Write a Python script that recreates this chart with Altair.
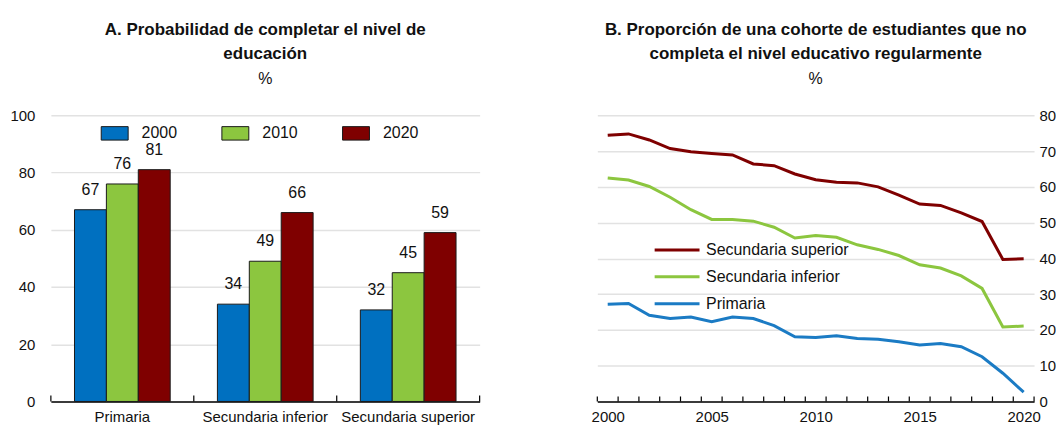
import altair as alt
import pandas as pd

FONT = "Liberation Sans Narrow, Arial Narrow, Liberation Sans, sans-serif"

# ---------------- Panel A data ----------------
categories = ["Primaria", "Secundaria inferior", "Secundaria superior"]
years_a = ["2000", "2010", "2020"]
prob_2000 = [67, 34, 32]
prob_2010 = [76, 49, 45]
prob_2020 = [81, 66, 59]
colors_a = ["#0070C0", "#8CC63F", "#7F0000"]

# ---------------- Panel B data ----------------
years_b = list(range(2000, 2021))
sec_superior = [74.4, 74.8, 73.1, 70.7, 69.8, 69.3, 68.9, 66.4, 65.9, 63.6, 62.0,
                61.3, 61.1, 60.0, 57.7, 55.2, 54.8, 52.7, 50.3, 39.7, 39.9]
sec_inferior = [62.5, 61.9, 60.1, 57.1, 53.6, 50.9, 50.9, 50.4, 48.7, 45.7, 46.4,
                45.9, 43.8, 42.5, 40.8, 38.2, 37.3, 35.1, 31.6, 20.8, 21.1]
primaria = [27.2, 27.4, 24.1, 23.2, 23.6, 22.3, 23.6, 23.2, 21.2, 18.1, 17.9,
            18.4, 17.6, 17.4, 16.7, 15.8, 16.2, 15.3, 12.5, 7.9, 2.6]
series_b = ["Secundaria superior", "Secundaria inferior", "Primaria"]
colors_b = ["#7F0000", "#8CC63F", "#1B7BC4"]

# ---------------- tables ----------------
rows_a = []
for i, c in enumerate(categories):
    for yr, vals in zip(years_a, [prob_2000, prob_2010, prob_2020]):
        rows_a.append({"cat": c, "year": yr, "value": vals[i]})
dfa = pd.DataFrame(rows_a)

rows_b = []
for name, vals in zip(series_b, [sec_superior, sec_inferior, primaria]):
    for yr, v in zip(years_b, vals):
        rows_b.append({"series": name, "year": yr, "value": v})
dfb = pd.DataFrame(rows_b)

ticks_a_start = pd.DataFrame({"cat": categories})
ticks_a_end = pd.DataFrame({"cat": categories[-1:]})
ticks_b = pd.DataFrame({"year": [y - 0.5 for y in years_b] + [years_b[-1] + 0.5]})

W_A, W_B, H = 430, 438, 287
GRID = "#E2E2E2"
TXT = "#111111"

# ---------------- Panel A ----------------
axisA_x = alt.Axis(title=None, labelAngle=0, ticks=False, domainColor="black",
                   domainWidth=1.5, labelFontSize=15, labelPadding=8,
                   labelColor=TXT, grid=False)
scaleA_x = alt.Scale(paddingInner=0, paddingOuter=0)
xA = alt.X("cat:N", sort=categories, scale=scaleA_x, axis=axisA_x)
yA = alt.Y("value:Q", scale=alt.Scale(domain=[0, 100], nice=False),
           axis=alt.Axis(title=None, values=[0, 20, 40, 60, 80, 100], ticks=False,
                         domain=False, labelPadding=16, gridColor=GRID, gridWidth=1.5,
                         minExtent=43, maxExtent=43, labelFontSize=15, labelColor=TXT))
xoffA = alt.XOffset("year:N", sort=years_a,
                    scale=alt.Scale(paddingOuter=0.74, paddingInner=0))
colorA = alt.Color("year:N", sort=years_a,
                   scale=alt.Scale(domain=years_a, range=colors_a),
                   legend=alt.Legend(title=None, orient="none", legendX=50, legendY=4,
                                     direction="horizontal",
                                     symbolType="M-1,-0.5H1V0.5H-1Z", symbolSize=729,
                                     symbolStrokeColor="#1a1a1a", symbolStrokeWidth=1,
                                     symbolOpacity=1, labelFontSize=16, labelOffset=13,
                                     columnPadding=42, padding=0, labelColor=TXT))

bars = alt.Chart(dfa).mark_bar(stroke="#1a1a1a", strokeWidth=1, opacity=1).encode(
    x=xA, xOffset=xoffA, y=yA, color=colorA)
bar_labels = alt.Chart(dfa).mark_text(dy=-20, fontSize=16, font=FONT, color=TXT).encode(
    x=xA, xOffset=xoffA, y=yA, text="value:Q")
tick_rules_a = alt.Chart(ticks_a_start).mark_rule(color="black", strokeWidth=1.2).encode(
    x=alt.X("cat:N", sort=categories, bandPosition=0, scale=scaleA_x, axis=axisA_x),
    y=alt.value(H - 6), y2=alt.value(H))
tick_rules_a_end = alt.Chart(ticks_a_end).mark_rule(color="black", strokeWidth=1.2).encode(
    x=alt.X("cat:N", sort=categories, bandPosition=1, scale=scaleA_x, axis=axisA_x),
    y=alt.value(H - 6), y2=alt.value(H))

title_style = dict(fontSize=17, fontWeight="bold", lineHeight=25,
                   subtitleFontSize=16, subtitleColor=TXT, subtitlePadding=8,
                   anchor="middle", offset=20, color=TXT, font=FONT, subtitleFont=FONT)

panelA = alt.layer(bars, bar_labels, tick_rules_a, tick_rules_a_end).properties(
    width=W_A, height=H,
    title=alt.TitleParams(text=["A. Probabilidad de completar el nivel de", "educación"],
                          subtitle="%", **title_style))

# ---------------- Panel B ----------------
xB = alt.X("year:Q", scale=alt.Scale(domain=[1999.5, 2020.5], nice=False, zero=False),
           axis=alt.Axis(title=None, values=[2000, 2005, 2010, 2015, 2020], format="d",
                         ticks=False, grid=False, domainColor="black", domainWidth=1.5,
                         labelFontSize=15, labelPadding=8, labelColor=TXT))
yB = alt.Y("value:Q", scale=alt.Scale(domain=[0, 80], nice=False),
           axis=alt.Axis(orient="right", title=None, values=list(range(0, 81, 10)),
                         ticks=False, domain=False, labelPadding=5, gridColor=GRID,
                         gridWidth=1.5, labelFontSize=15, labelColor=TXT))
colorB = alt.Color("series:N", sort=series_b,
                   scale=alt.Scale(domain=series_b, range=colors_b),
                   legend=alt.Legend(title=None, orient="none", legendX=71, legendY=126,
                                     symbolType="M-3,0H3", symbolSize=225,
                                     symbolStrokeWidth=3, labelFontSize=16,
                                     labelOffset=20, padding=0, rowPadding=10,
                                     labelColor=TXT))

lines = alt.Chart(dfb).mark_line(strokeWidth=3).encode(
    x=xB, y=yB, color=colorB, detail="series:N")
tick_rules_b = alt.Chart(ticks_b).mark_rule(color="black", strokeWidth=1.2).encode(
    x=xB, y=alt.value(H - 5), y2=alt.value(H))

panelB = alt.layer(lines, tick_rules_b).properties(
    width=W_B, height=H,
    title=alt.TitleParams(text=["B. Proporción de una cohorte de estudiantes que no",
                                "completa el nivel educativo regularmente"],
                          subtitle="%", **title_style))

chart = alt.hconcat(panelA, panelB, spacing=118, bounds="flush").resolve_scale(
    color="independent"
).properties(
    padding={"left": 0, "top": 12, "right": 0, "bottom": 0}
).configure_view(stroke=None).configure_axis(
    labelFont=FONT
).configure_legend(labelFont=FONT).configure_text(font=FONT)

chart.save("out.html", embed_options={"renderer": "svg", "actions": False})
